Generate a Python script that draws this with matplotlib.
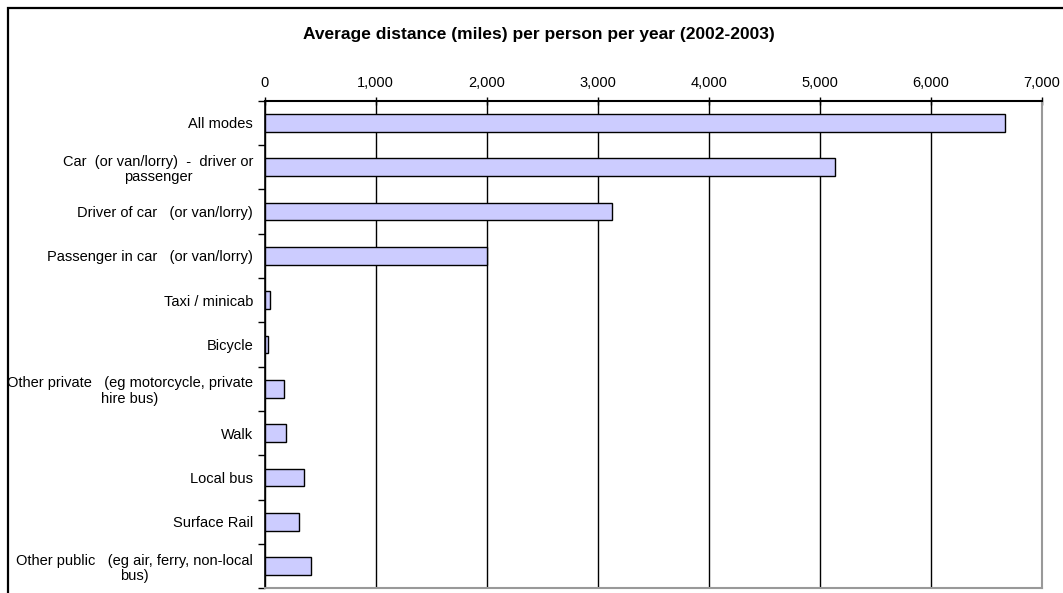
import matplotlib
matplotlib.use("Agg")
import matplotlib.pyplot as plt
from matplotlib.patches import Rectangle
import numpy as np

plt.rcParams['font.family'] = ['Liberation Sans', 'DejaVu Sans']

categories = [
    "All modes",
    "Car  (or van/lorry)  -  driver or\npassenger",
    "Driver of car   (or van/lorry)",
    "Passenger in car   (or van/lorry)",
    "Taxi / minicab",
    "Bicycle",
    "Other private   (eg motorcycle, private\nhire bus)",
    "Walk",
    "Local bus",
    "Surface Rail",
    "Other public   (eg air, ferry, non-local\nbus)",
]
values = [6670, 5140, 3130, 2000, 50, 30, 177, 190, 357, 313, 415]
x_ticks = [0, 1000, 2000, 3000, 4000, 5000, 6000, 7000]
x_tick_labels = ["0", "1,000", "2,000", "3,000", "4,000", "5,000", "6,000", "7,000"]
title = "Average distance (miles) per person per year (2002-2003)"

W, H = 1063, 593
fig = plt.figure(figsize=(W / 100, H / 100), dpi=100)

# outer chart border (extends beyond the image on right/bottom)
fig.patches.append(Rectangle((7.5 / W, -0.1), 1.2, 1 - 7.5 / H + 0.1,
                             transform=fig.transFigure, fill=False,
                             edgecolor='black', linewidth=1.6, zorder=0))

left, right, top, bottom = 264.7, 1041.7, 100.7, 588.3
ax = fig.add_axes([left / W, 1 - bottom / H, (right - left) / W, (bottom - top) / H])

y = np.arange(len(categories))
ax.barh(y, values, height=0.4, color='#CCCCFF', edgecolor='black', linewidth=1.0, zorder=3)

ax.set_xlim(0, 7000)
ax.set_ylim(len(categories) - 0.5, -0.5)

ax.xaxis.tick_top()
ax.set_xticks(x_ticks)
ax.set_xticklabels(x_tick_labels, fontsize=10.5)
ax.tick_params(axis='x', which='major', direction='inout', length=6, width=1, pad=5, colors='black')

# y ticks at category boundaries, labels at centers
ax.set_yticks(np.arange(-0.5, len(categories) + 0.5, 1.0))
ax.set_yticklabels([])
ax.tick_params(axis='y', which='major', direction='out', length=5, width=1)
ax.set_yticks(y, minor=True)
ax.set_yticklabels(categories, minor=True, fontsize=10.5, multialignment='center',
                   linespacing=1.12)
ax.tick_params(axis='y', which='minor', length=0, pad=8.4)

ax.grid(axis='x', color='black', linewidth=1.0, zorder=0)
ax.set_axisbelow(True)

ax.spines['top'].set_linewidth(1.5)
ax.spines['top'].set_color('black')
ax.spines['left'].set_linewidth(1.2)
ax.spines['left'].set_color('black')
ax.spines['right'].set_color('#999999')
ax.spines['right'].set_linewidth(1.5)
ax.spines['bottom'].set_color('#999999')
ax.spines['bottom'].set_linewidth(1.5)

fig.text(538.7 / W, 1 - 34.5 / H, title, ha='center', va='center',
         fontsize=12.5, fontweight='bold')

fig.savefig("out.png", dpi=100)
